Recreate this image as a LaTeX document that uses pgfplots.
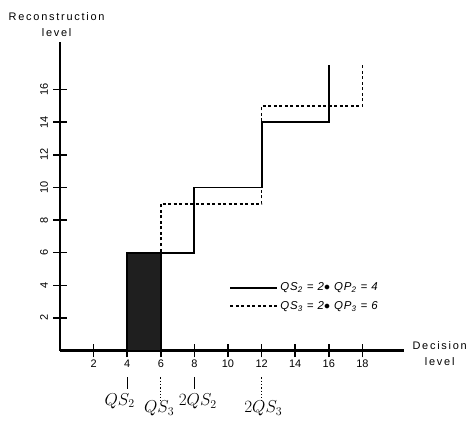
\documentclass[border=0pt]{standalone}
\usepackage{pgfplots}
\pgfplotsset{compat=1.18}
\usepackage{graphicx}
\usepackage{fontspec}
\setmainfont{Liberation Sans}
\newfontfamily\lbl[LetterSpace=16]{Liberation Sans}
\newfontfamily\lgd[LetterSpace=8]{Liberation Sans}

\begin{document}
\begin{tikzpicture}
\begin{axis}[
  x=16.8bp, y=16.3bp,
  xmin=0, xmax=20.5,
  ymin=0, ymax=18.9,
  axis lines=left,
  axis line style={-, line width=2.4bp},
  xtick={2,4,...,18},
  ytick={2,4,...,16},
  tick align=center,
  major tick length=13bp,
  major tick style={line width=1.6bp, black},
  tick label style={font=\fontsize{11}{12}\selectfont},
  /pgf/number format/assume math mode=true,
  every x tick label/.append style={yshift=1bp},
  yticklabel={\rotatebox{90}{\pgfmathprintnumber{\tick}}},
  every y tick label/.append style={anchor=east, xshift=-2bp},
  clip=false,
  legend style={at={(axis cs:9.9,4.4)}, anchor=north west, draw=none, fill=none,
    font=\lgd\fontsize{11.5}{13}\selectfont\itshape, row sep=5bp},
  legend cell align=left,
  legend image code/.code={\draw[#1] (0bp,0bp) -- (47bp,0bp);},
]
% shaded interval between QS2 and QS3
\addplot[fill=black!88, draw=black, line width=1.5bp, forget plot]
  coordinates {(4,6) (6,6)} \closedcycle;

% QS2 = 4
\addplot[black, line width=1.9bp]
  coordinates {(4,0) (4,6) (8,6) (8,10) (12,10) (12,14) (16,14) (16,17.5)};
\addlegendentry{QS\textsubscript{2} = 2$\bullet$ QP\textsubscript{2} = 4}

% QS3 = 6
\addplot[black, line width=1.7bp, dash pattern=on 3bp off 2.5bp]
  coordinates {(6,0) (6,9) (12,9) (12,15) (18,15) (18,17.5)};
\addlegendentry{QS\textsubscript{3} = 2$\bullet$ QP\textsubscript{3} = 6}

% tick marks crossing the decision axis
\pgfplotsinvokeforeach{2,4,6,8,10,12,14,16,18}{
  \draw[line width=1.6bp] (axis cs:#1,-0.4) -- (axis cs:#1,0.4);
}

% marks under the decision axis
\draw[line width=1.1bp] (axis cs:4,-1.65) -- (axis cs:4,-2.35);
\draw[line width=1.1bp] (axis cs:8,-1.65) -- (axis cs:8,-2.35);
\draw[line width=1.4bp, dash pattern=on 1.3bp off 2bp] (axis cs:6,-1.65) -- (axis cs:6,-3.1);
\draw[line width=1.4bp, dash pattern=on 1.3bp off 2bp] (axis cs:12,-1.65) -- (axis cs:12,-3.1);

\node[anchor=base, font=\fontsize{17}{17}\selectfont] at (axis cs:3.55,-3.35) {$QS_2$};
\node[anchor=base, font=\fontsize{17}{17}\selectfont] at (axis cs:5.9,-3.8) {$QS_3$};
\node[anchor=base, font=\fontsize{17}{17}\selectfont] at (axis cs:8.2,-3.4) {$2QS_2$};
\node[anchor=base, font=\fontsize{17}{17}\selectfont] at (axis cs:12.1,-3.8) {$2QS_3$};

\node[align=center, anchor=north, font=\lbl\fontsize{11}{16}\selectfont] at (axis cs:-0.2,20.95) {Reconstruction\\level};
\node[align=center, anchor=north, font=\lbl\fontsize{11}{16}\selectfont] at (axis cs:22.6,0.75) {Decision\\level};

\coordinate (o) at (axis cs:0,0);
\end{axis}
\pgfresetboundingbox
\path[use as bounding box] (o) ++(-60bp,-70.5bp) rectangle ++(466bp,421bp);
\end{tikzpicture}
\end{document}
